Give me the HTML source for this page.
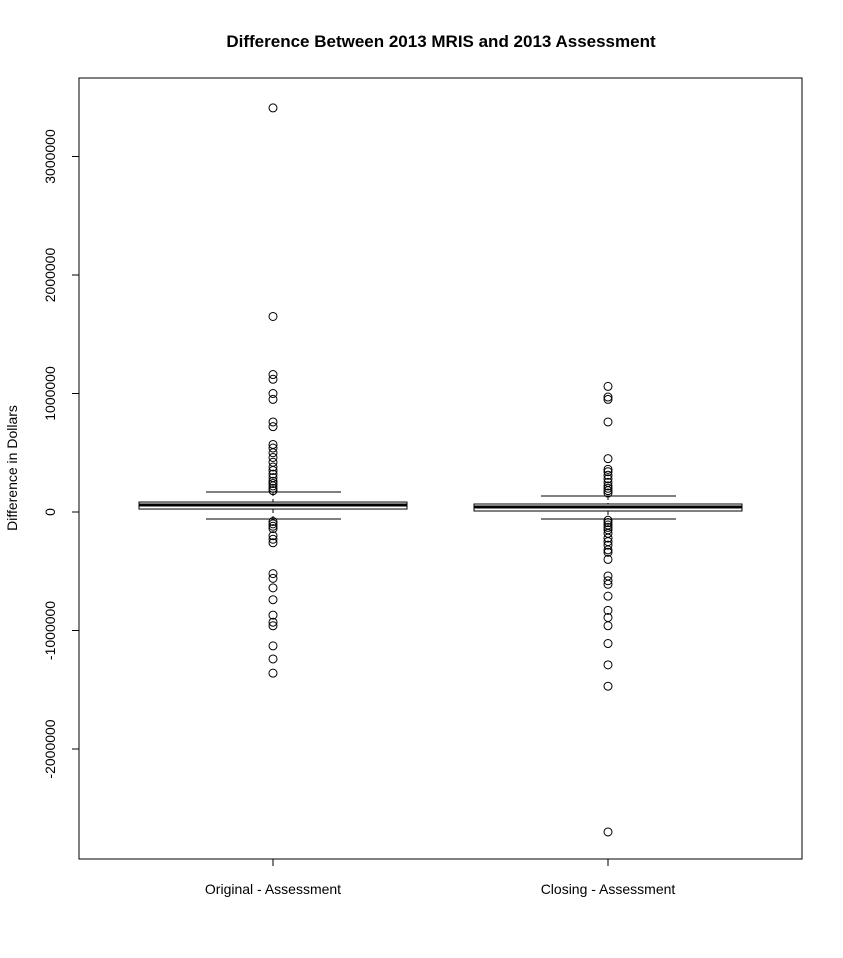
<!DOCTYPE html>
<html><head><meta charset="utf-8"><style>body{margin:0;background:#fff}svg{display:block;font-family:"Liberation Sans",sans-serif}</style></head>
<body>
<svg id="chart" width="843" height="958">
<text x="441" y="47" text-anchor="middle" font-weight="bold" font-size="17">Difference Between 2013 MRIS and 2013 Assessment</text>
<rect x="79" y="78" width="723" height="781" fill="none" stroke="#000"/>
<text transform="translate(17,468) rotate(-90)" text-anchor="middle" font-size="14">Difference in Dollars</text>
<g id="ax"></g>
</svg>
<script>
const categories=["Original - Assessment","Closing - Assessment"];
const whiskerLow=[-59000,-59000];
const q1=[25000,8400];
const medians=[59000,42000];
const q3=[84000,67500];
const whiskerHigh=[169000,135000];
const outliers1=[3410000,1650000,1160000,1120000,1000000,950000,760000,720000,570000,540000,500000,460000,420000,380000,350000,320000,290000,260000,240000,220000,200000,180000,-80000,-100000,-120000,-140000,-200000,-230000,-260000,-520000,-560000,-640000,-740000,-870000,-930000,-960000,-1130000,-1240000,-1360000];
const outliers2=[1060000,970000,950000,760000,450000,360000,340000,310000,280000,250000,220000,200000,180000,160000,-70000,-90000,-110000,-130000,-150000,-180000,-220000,-250000,-280000,-320000,-340000,-400000,-540000,-580000,-610000,-710000,-830000,-890000,-960000,-1110000,-1290000,-1470000,-2700000];
const outliers=[outliers1,outliers2];
const yTicks=[-2000000,-1000000,0,1000000,2000000,3000000];
const y=v=>512-v*118.5/1e6;
const xc=i=>273+i*335;
const NS="http://www.w3.org/2000/svg";
const g=document.getElementById('ax');
function mk(t,a,p){const e=document.createElementNS(NS,t);for(const k in a)e.setAttribute(k,a[k]);(p||g).appendChild(e);return e;}
yTicks.forEach(v=>{
 const l=mk('line',{x1:72,x2:79,y1:y(v),y2:y(v),stroke:'#000'});
 
 
 const t=mk('text',{transform:`translate(55,${y(v)}) rotate(-90)`,'text-anchor':'middle','font-size':'14'});
 t.textContent=String(v);
 
 
});
categories.forEach((c,i)=>{
 const x=xc(i);
 const tk=mk('line',{x1:x,x2:x,y1:859,y2:866,stroke:'#000'});
 
 
 const t=mk('text',{x:x,y:894,'text-anchor':'middle','font-size':'14'});
 t.textContent=c;
 
 
 const bg=mk('g',{});
 
 
 mk('line',{x1:x,x2:x,y1:y(whiskerHigh[i]),y2:y(q3[i]),stroke:'#000','stroke-dasharray':'4,3'},bg);
 mk('line',{x1:x,x2:x,y1:y(q1[i]),y2:y(whiskerLow[i]),stroke:'#000','stroke-dasharray':'4,3'},bg);
 mk('line',{x1:x-67,x2:x+68,y1:y(whiskerHigh[i]),y2:y(whiskerHigh[i]),stroke:'#000'},bg);
 mk('line',{x1:x-67,x2:x+68,y1:y(whiskerLow[i]),y2:y(whiskerLow[i]),stroke:'#000'},bg);
 mk('rect',{x:x-134,y:y(q3[i]),width:268,height:y(q1[i])-y(q3[i]),fill:'none',stroke:'#000'},bg);
 mk('line',{x1:x-134,x2:x+134,y1:y(medians[i]),y2:y(medians[i]),stroke:'#000','stroke-width':3},bg);
 outliers[i].forEach(v=>{
  const o=mk('circle',{cx:x,cy:y(v),r:4,fill:'none',stroke:'#000'},bg);
  
  
 });
});
</script>
</body></html>
